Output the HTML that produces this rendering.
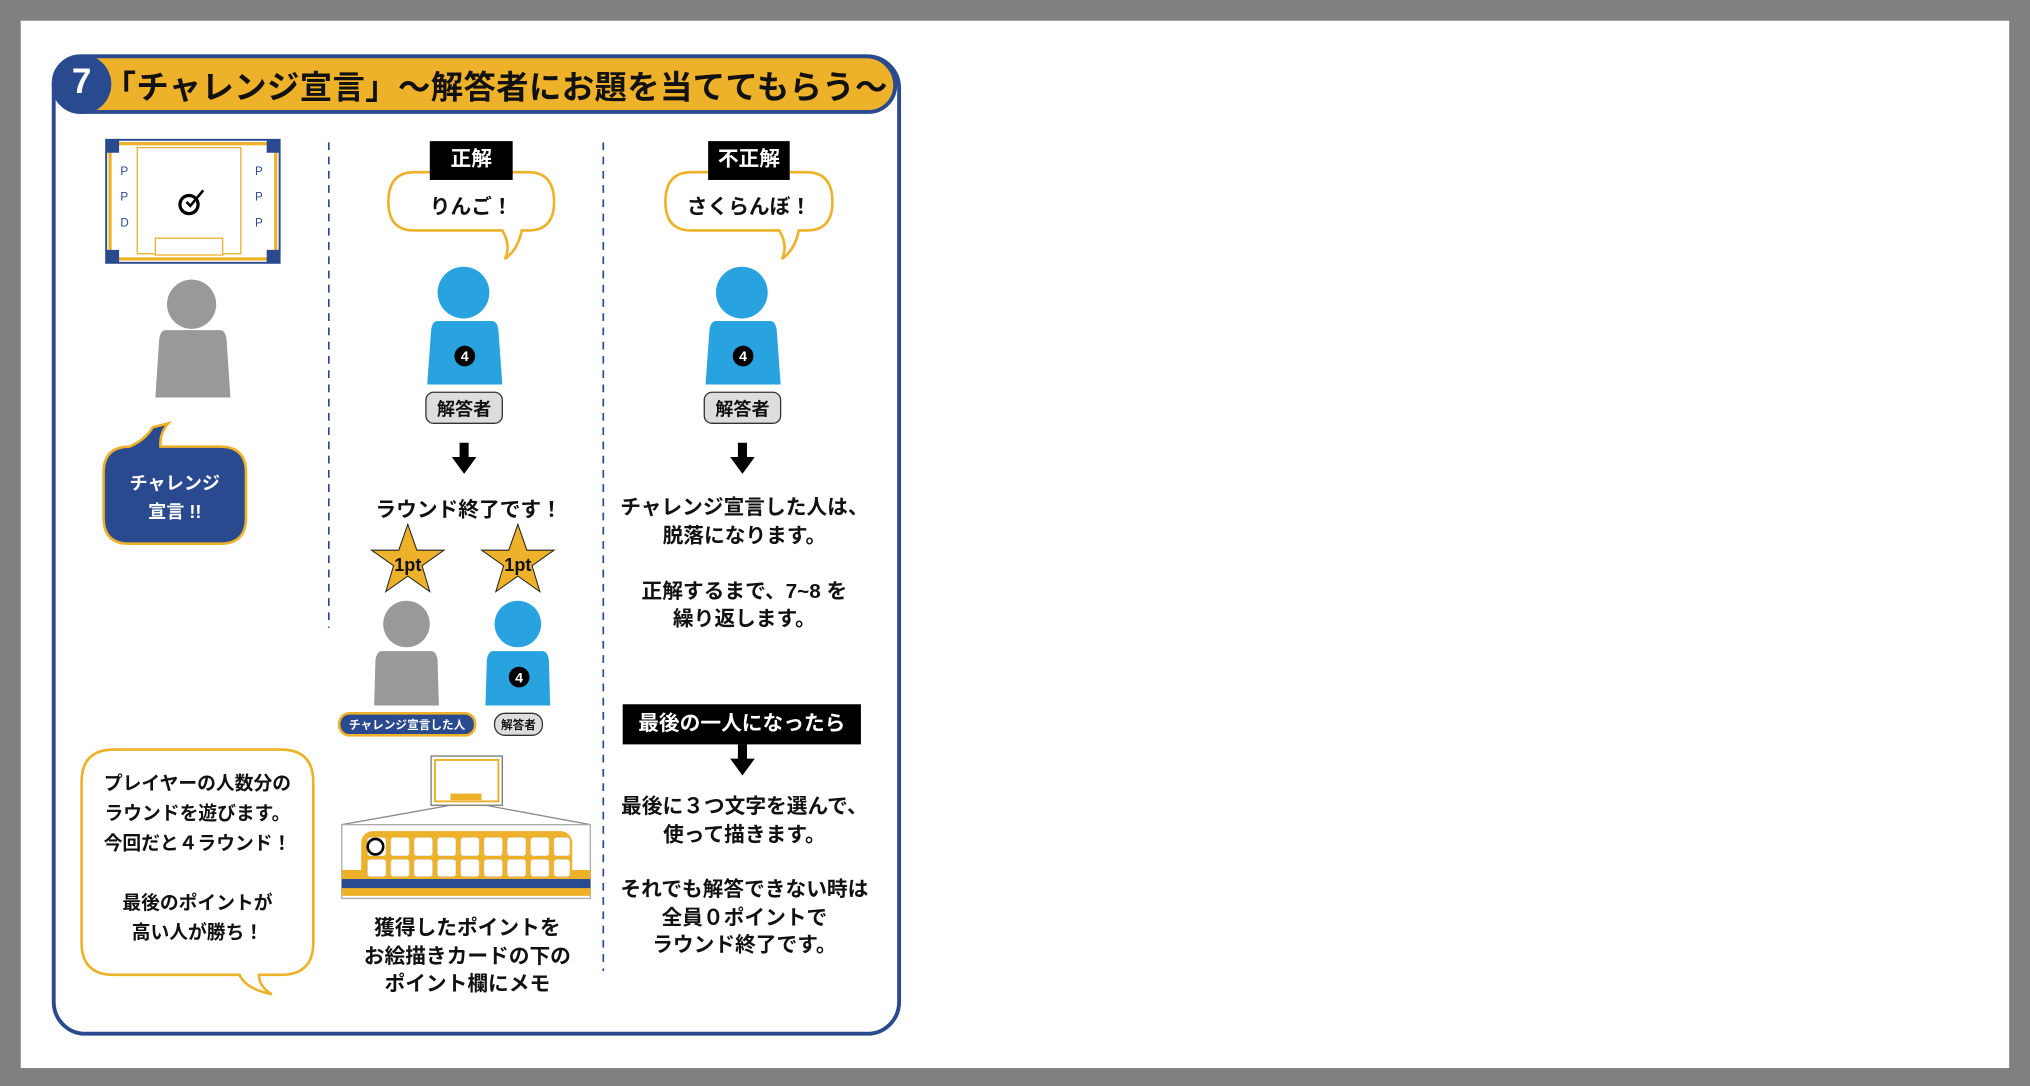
<!DOCTYPE html>
<html><head><meta charset="utf-8"><style>
body{margin:0;width:2030px;height:1086px;overflow:hidden;background:#808080;font-family:"Liberation Sans","Noto Sans CJK JP",sans-serif}
#s{position:absolute;left:0;top:0;width:1568px;height:839px;transform:scale(1.2946);transform-origin:0 0}
.a{position:absolute}
.t{position:absolute;font-weight:bold;color:#111;text-align:center;white-space:nowrap}
.blk{position:absolute;background:#000;color:#fff;font-weight:bold;text-align:center}
</style></head><body><div id="s">
<div class="a" style="left:16px;top:16px;width:1536px;height:809px;background:#fff"></div>
<div class="a" style="left:40px;top:42px;width:650px;height:752px;border:3px solid #2a4a8f;border-radius:26px"></div>
<div class="a" style="left:40px;top:42px;width:653px;height:46px;background:#edb12a;border-radius:24px 26px 24px 24px;border:3px solid #2a4a8f;box-sizing:border-box"></div>
<div class="a" style="left:40px;top:42px;width:46px;height:46px;background:#2a4a8f;border-radius:50%"></div>
<div class="t" style="left:40px;top:48px;width:46px;font-size:27px;color:#fff">7</div>
<div class="t" style="left:80px;top:48px;font-size:25px;letter-spacing:0.3px">「チャレンジ宣言」～解答者にお題を当ててもらう～</div>
<svg class="a" style="left:0;top:0" width="700" height="800">
<line x1="254" y1="110" x2="254" y2="485" stroke="#2a4a8f" stroke-width="1.3" stroke-dasharray="6,5"/>
<line x1="466" y1="110" x2="466" y2="750" stroke="#2a4a8f" stroke-width="1.3" stroke-dasharray="6,5"/>
<!-- card -->
<rect x="82" y="108" width="134" height="95" fill="#fff" stroke="#2a4a8f" stroke-width="1.5"/>
<rect x="85" y="111" width="128" height="89" fill="#fff" stroke="#edb12a" stroke-width="2.5"/>
<path d="M82 108 h10 v10 h-10z M206 108 h10 v10 h-10z M82 193 h10 v10 h-10z M206 193 h10 v10 h-10z" fill="#2a4a8f"/>
<rect x="106" y="114" width="80" height="82" fill="#fff" stroke="#edb12a"/>
<rect x="120" y="184" width="52" height="13" fill="#fff" stroke="#edb12a"/>
<text x="93" y="135" font-size="9" fill="#2a4a8f">P</text><text x="93" y="155" font-size="9" fill="#2a4a8f">P</text><text x="93" y="175" font-size="9" fill="#2a4a8f">D</text>
<text x="197" y="135" font-size="9" fill="#2a4a8f">P</text><text x="197" y="155" font-size="9" fill="#2a4a8f">P</text><text x="197" y="175" font-size="9" fill="#2a4a8f">P</text>
<circle cx="146" cy="158" r="7" fill="none" stroke="#000" stroke-width="2.5"/><path d="M144 156 L147 159 L157 147" stroke="#000" stroke-width="2" fill="none"/>
<!-- gray person -->
<circle cx="148" cy="235" r="19" fill="#999"/>
<path d="M128 255 Q124 255 123 262 L120 307 L178 307 L175 262 Q174 255 170 255Z" fill="#999"/>
<!-- blue bubble -->
<path d="M100 345 Q112 340 118 330 L130 327 Q123 335 124 345 L170 345 Q190 345 190 365 L190 400 Q190 420 170 420 L100 420 Q80 420 80 400 L80 365 Q80 345 100 345Z" fill="#2a4a8f" stroke="#edb12a" stroke-width="2"/>
<path d="M320 133 L408 133 Q428 133 428 156 Q428 178 408 178 L403 178 Q400 193 390 200 Q395 190 388 178 L320 178 Q300 178 300 156 Q300 133 320 133Z" fill="#fff" stroke="#edb12a" stroke-width="2"/>
<path d="M534 133 L623 133 Q643 133 643 156 Q643 178 623 178 L617 178 Q614 193 604 200 Q609 190 602 178 L534 178 Q514 178 514 156 Q514 133 534 133Z" fill="#fff" stroke="#edb12a" stroke-width="2"/>
<g fill="#29a3df">
<circle cx="358" cy="226" r="20"/><path d="M338 248 Q334 248 333 255 L330 297 L388 297 L385 255 Q384 248 380 248Z"/>
<circle cx="573" cy="226" r="20"/><path d="M553 248 Q549 248 548 255 L545 297 L603 297 L600 255 Q599 248 595 248Z"/>
<circle cx="400" cy="482" r="18"/><path d="M381 503 Q377 503 376 510 L375 545 L425 545 L424 510 Q423 503 419 503Z"/>
</g>
<circle cx="314" cy="482" r="18" fill="#999"/><path d="M295 503 Q291 503 290 510 L289 545 L339 545 L338 510 Q337 503 333 503Z" fill="#999"/>
<g fill="#000"><circle cx="359" cy="275" r="8"/><circle cx="574" cy="275" r="8"/><circle cx="401" cy="523" r="8"/></g>
<g fill="#fff" font-size="11" font-weight="bold" text-anchor="middle"><text x="359" y="279">4</text><text x="574" y="279">4</text><text x="401" y="527">4</text></g>
<rect x="329" y="303" width="59" height="24" rx="6" fill="#ddd" stroke="#333"/>
<rect x="544" y="303" width="59" height="24" rx="6" fill="#ddd" stroke="#333"/>
<rect x="262" y="551" width="105" height="17" rx="8" fill="#2a4a8f" stroke="#edb12a" stroke-width="2"/>
<rect x="382" y="551" width="37" height="17" rx="8" fill="#ddd" stroke="#333"/>
<g fill="#000"><rect x="355" y="342" width="7" height="12"/><path d="M349 353 L368 353 L358.5 366Z"/>
<rect x="570" y="342" width="7" height="12"/><path d="M564 353 L583 353 L573.5 366Z"/>
<rect x="570" y="575" width="7" height="12"/><path d="M564 586 L583 586 L573.5 599Z"/></g>
<g fill="#edb12a" stroke="#222" stroke-width="0.8">
<path d="M315 405 L322 425 L343 425 L326 437 L332 457 L315 445 L298 457 L304 437 L287 425 L308 425Z"/>
<path d="M400 405 L407 425 L428 425 L411 437 L417 457 L400 445 L383 457 L389 437 L372 425 L393 425Z"/></g>
<g font-size="14" font-weight="bold" text-anchor="middle" fill="#111"><text x="315" y="441">1pt</text><text x="400" y="441">1pt</text></g>
<rect x="333" y="584" width="55" height="38" fill="#fff" stroke="#777"/><rect x="336" y="587" width="49" height="32" fill="#fff" stroke="#edb12a" stroke-width="1.5"/>
<rect x="348" y="613" width="24" height="5" fill="#edb12a"/>
<line x1="348" y1="622" x2="264" y2="637" stroke="#888"/><line x1="375" y1="622" x2="456" y2="637" stroke="#888"/>
<rect x="264" y="637" width="192" height="57" fill="#fff" stroke="#aaa"/>
<rect x="279" y="642" width="163" height="40" rx="9" fill="#edb12a"/>
<rect x="264" y="672" width="192" height="20" fill="#edb12a"/>
<rect x="264" y="679" width="192" height="7" fill="#2a4a8f"/>
<g fill="#fff" stroke="#ddd" stroke-width="0.5">
<rect x="284" y="647" width="14" height="14" rx="2"/><rect x="302" y="647" width="14" height="14" rx="2"/><rect x="320" y="647" width="14" height="14" rx="2"/><rect x="338" y="647" width="14" height="14" rx="2"/><rect x="356" y="647" width="14" height="14" rx="2"/><rect x="374" y="647" width="14" height="14" rx="2"/><rect x="392" y="647" width="14" height="14" rx="2"/><rect x="410" y="647" width="14" height="14" rx="2"/><rect x="428" y="647" width="12" height="14" rx="2"/>
<rect x="284" y="664" width="14" height="13" rx="2"/><rect x="302" y="664" width="14" height="13" rx="2"/><rect x="320" y="664" width="14" height="13" rx="2"/><rect x="338" y="664" width="14" height="13" rx="2"/><rect x="356" y="664" width="14" height="13" rx="2"/><rect x="374" y="664" width="14" height="13" rx="2"/><rect x="392" y="664" width="14" height="13" rx="2"/><rect x="410" y="664" width="14" height="13" rx="2"/><rect x="428" y="664" width="12" height="13" rx="2"/></g>
<circle cx="290" cy="654" r="6" fill="none" stroke="#000" stroke-width="2"/>
<path d="M88 579 L217 579 Q242 579 242 604 L242 728 Q242 753 217 753 L200 753 Q200 762 210 768 Q190 764 185 753 L88 753 Q63 753 63 728 L63 604 Q63 579 88 579Z" fill="#fff" stroke="#edb12a" stroke-width="2"/>
</svg>
<div class="t" style="left:80px;top:362px;width:110px;font-size:14px;color:#fff;line-height:22px">チャレンジ<br>宣言 !!</div>
<div class="blk" style="left:332px;top:109px;width:64px;height:30px;line-height:30px;font-size:16px">正解</div>
<div class="blk" style="left:547px;top:109px;width:63px;height:30px;line-height:30px;font-size:16px">不正解</div>
<div class="t" style="left:300px;top:146px;width:128px;font-size:16px">りんご！</div>
<div class="t" style="left:514px;top:146px;width:129px;font-size:16px">さくらんぼ！</div>
<div class="t" style="left:329px;top:306px;width:59px;font-size:14px">解答者</div>
<div class="t" style="left:544px;top:306px;width:59px;font-size:14px">解答者</div>
<div class="t" style="left:262px;top:553px;width:105px;font-size:9px;color:#fff">チャレンジ宣言した人</div>
<div class="t" style="left:382px;top:553px;width:37px;font-size:9px">解答者</div>
<div class="t" style="left:282px;top:380px;width:160px;font-size:16px">ラウンド終了です！</div>
<div class="t" style="left:261px;top:707px;width:200px;font-size:16px;line-height:21.5px">獲得したポイントを<br>お絵描きカードの下の<br>ポイント欄にメモ</div>
<div class="t" style="left:470px;top:382px;width:210px;font-size:16px;line-height:21.5px">チャレンジ宣言した人は、<br>脱落になります。<br><br>正解するまで、7~8 を<br>繰り返します。</div>
<div class="blk" style="left:481px;top:544px;width:184px;height:31px;line-height:31px;font-size:16px">最後の一人になったら</div>
<div class="t" style="left:470px;top:613px;width:210px;font-size:16px;line-height:21.5px">最後に３つ文字を選んで、<br>使って描きます。</div>
<div class="t" style="left:470px;top:677px;width:210px;font-size:16px;line-height:21.5px">それでも解答できない時は<br>全員０ポイントで<br>ラウンド終了です。</div>
<div class="t" style="left:63px;top:595px;width:179px;font-size:14.5px;line-height:23px">プレイヤーの人数分の<br>ラウンドを遊びます。<br>今回だと４ラウンド！<br><br>最後のポイントが<br>高い人が勝ち！</div>
</div></body></html>
